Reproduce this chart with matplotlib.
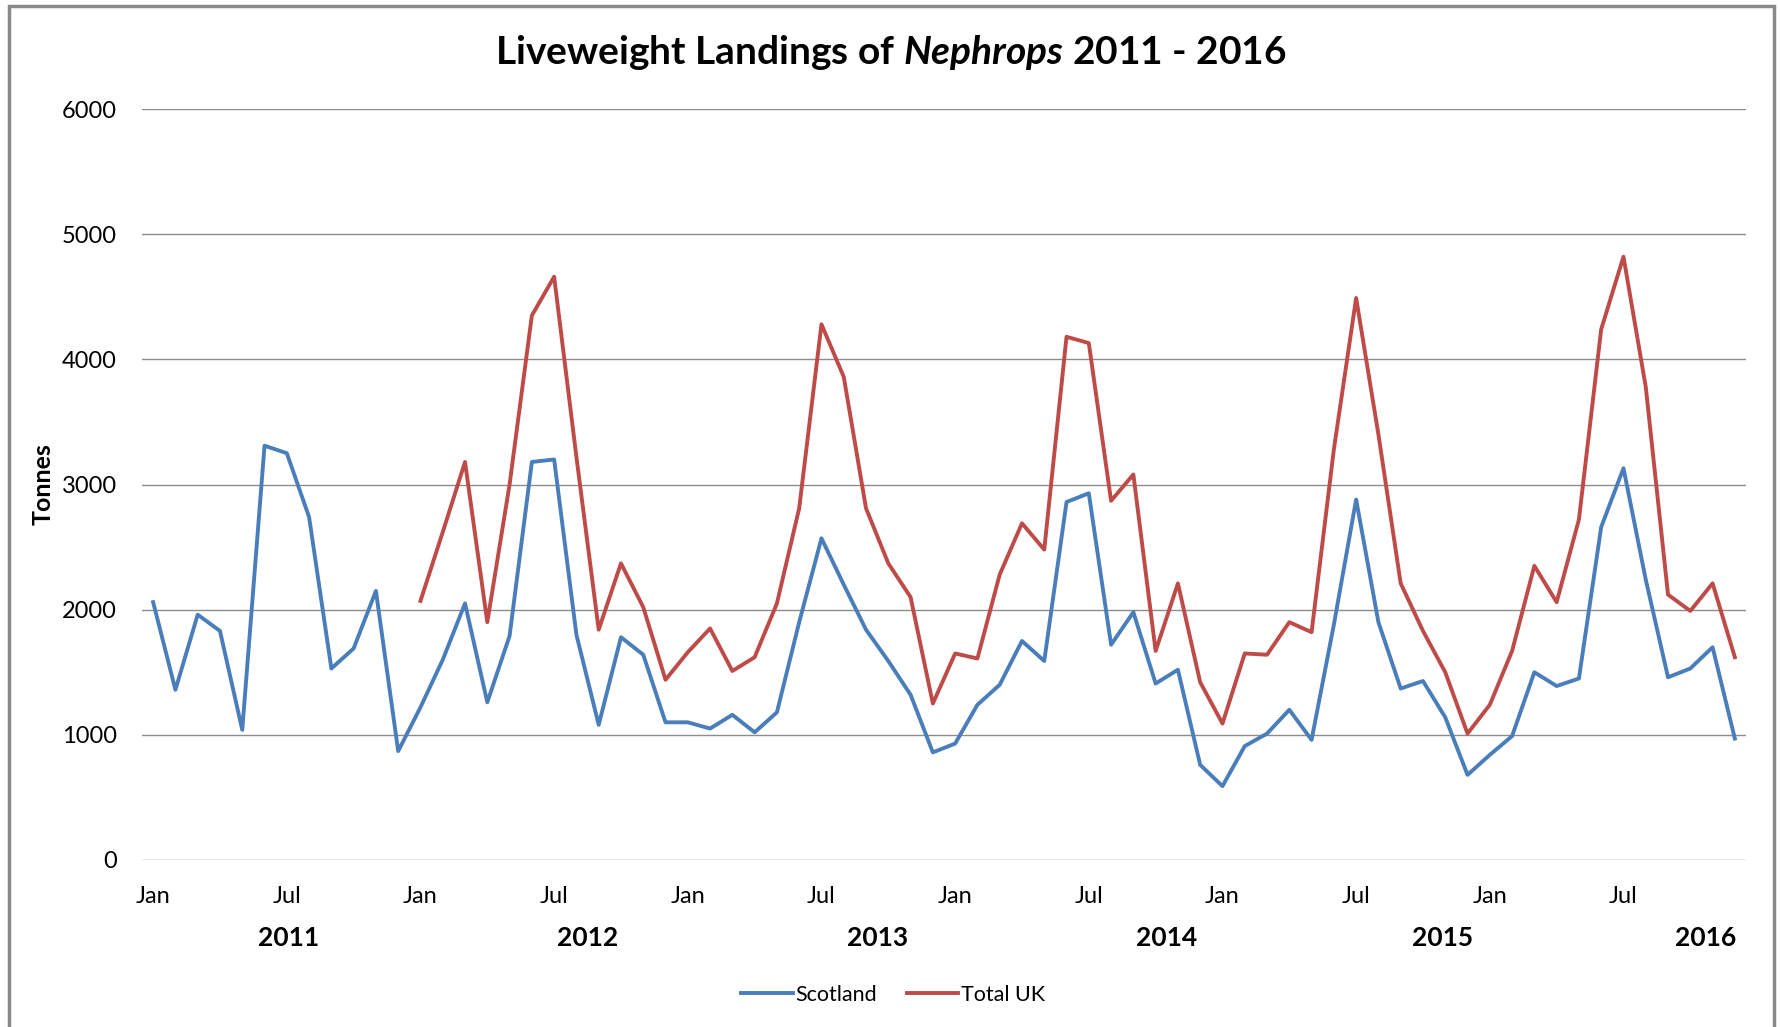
import matplotlib
matplotlib.use("Agg")
import matplotlib.pyplot as plt
import matplotlib.transforms as mtransforms
from matplotlib.patches import Rectangle
import numpy as np

plt.rcParams["font.family"] = ["Lato", "DejaVu Sans"]
plt.rcParams["mathtext.fontset"] = "custom"
plt.rcParams["mathtext.it"] = "Lato:italic:bold"
plt.rcParams["mathtext.rm"] = "Lato:bold"

# Monthly landings, Jan 2011 .. Dec 2016 (72 months)
scotland = [2060, 1360, 1960, 1830, 1040, 3310, 3250, 2740, 1530, 1690, 2150, 870,
            1220, 1600, 2050, 1260, 1790, 3180, 3200, 1800, 1080, 1780, 1640, 1100,
            1100, 1050, 1160, 1020, 1180, 1900, 2570, 2200, 1840, 1590, 1320, 860,
            930, 1240, 1400, 1750, 1590, 2860, 2930, 1720, 1980, 1410, 1520, 760,
            590, 910, 1010, 1200, 960, 1880, 2880, 1900, 1370, 1430, 1140, 680,
            840, 990, 1500, 1390, 1450, 2660, 3130, 2240, 1460, 1530, 1700, 970]
# Total UK starts in month 12
total_uk = [np.nan] * 12 + [
            2070, 2620, 3180, 1900, 3000, 4350, 4660, 3220, 1840, 2370, 2020, 1440,
            1660, 1850, 1510, 1620, 2050, 2810, 4280, 3860, 2810, 2370, 2100, 1250,
            1650, 1610, 2280, 2690, 2480, 4180, 4130, 2870, 3080, 1670, 2210, 1420,
            1090, 1650, 1640, 1900, 1820, 3280, 4490, 3400, 2210, 1830, 1500, 1010,
            1240, 1670, 2350, 2060, 2720, 4240, 4820, 3780, 2120, 1990, 2210, 1620]

month_labels = ["Jan", "Jul"]
year_labels = ["2011", "2012", "2013", "2014", "2015", "2016"]
year_pos = [6.1, 19.5, 32.5, 45.5, 57.9, 69.7]

x = np.arange(len(scotland))

fig = plt.figure(figsize=(17.81, 10.27), dpi=100)
ax = fig.add_axes([142 / 1781, 1 - 860 / 1027, (1746 - 142) / 1781, (860 - 109) / 1027])

ax.plot(x, scotland, color="#4a7ebb", lw=2.8, label="Scotland", solid_joinstyle="round")
ax.plot(x, total_uk, color="#be4b48", lw=2.8, label="Total UK", solid_joinstyle="round")

ax.set_xlim(-0.5, 71.5)
ax.set_ylim(0, 6000)
ax.set_yticks(range(0, 6001, 1000))
ax.grid(axis="y", color="#8c8c8c", lw=1)
ax.set_axisbelow(True)
for s in ax.spines.values():
    s.set_visible(False)
ax.tick_params(axis="both", length=0, labelsize=17)
ax.tick_params(axis="y", pad=18)

ticks = np.arange(0, 72, 6)
ax.set_xticks(ticks)
ax.set_xticklabels([month_labels[(t // 6) % 2] for t in ticks])
ax.tick_params(axis="x", pad=19)

trans = mtransforms.blended_transform_factory(ax.transData, fig.transFigure)
for yl, xp in zip(year_labels, year_pos):
    ax.text(xp, 1 - 938 / 1027, yl, transform=trans, ha="center", va="center",
            fontsize=19, fontweight="bold")

ax.set_ylabel("Tonnes", fontsize=18, fontweight="bold", labelpad=5)

fig.text(0.5, 1 - 52 / 1027, r"Liveweight Landings of $\mathit{Nephrops}$ 2011 - 2016",
         ha="center", va="center", fontsize=28, fontweight="bold")

fig.legend(loc="center", bbox_to_anchor=(893 / 1781, 1 - 995 / 1027), ncol=2,
           frameon=False, fontsize=15.5, handlelength=2.4, handletextpad=0.1,
           columnspacing=1.4)

fig.patches.append(Rectangle((9 / 1781, -0.05), (1774 - 9) / 1781, 1.05 - 6 / 1027,
                             transform=fig.transFigure, fill=False,
                             edgecolor="#898989", lw=2.5))

fig.savefig("out.png", dpi=100)
